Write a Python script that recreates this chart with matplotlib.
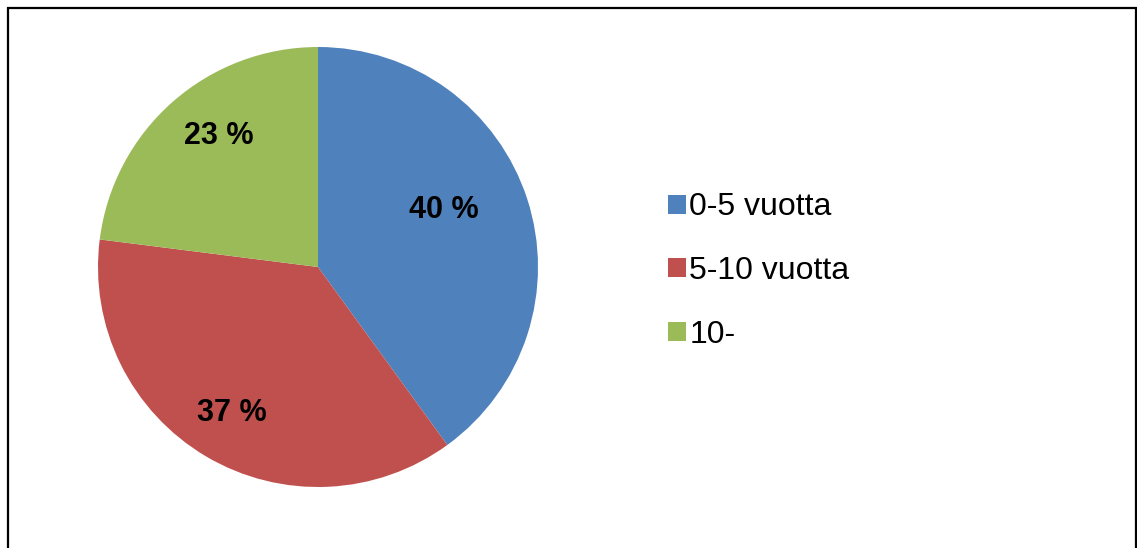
import matplotlib.pyplot as plt
from matplotlib.patches import Rectangle

# data
labels = ['0-5 vuotta', '5-10 vuotta', '10-']
values = [40, 37, 23]
colors = ['#4F81BD', '#C0504D', '#9BBB59']
pct_text = ['40 %', '37 %', '23 %']

plt.rcParams['font.family'] = ['Liberation Sans', 'DejaVu Sans']

W, H = 1137, 548
fig = plt.figure(figsize=(W / 100, H / 100), dpi=100)

# frame around chart area (bottom edge falls outside the image)
fig.add_artist(Rectangle((7.5 / W, -0.05), (1136 - 7.5) / W, (H - 7.5) / H + 0.05,
                         transform=fig.transFigure, fill=False,
                         edgecolor='black', linewidth=1.6))

# pie axes: center (318, 267), radius 220 px
cx, cy, r = 318, 267, 220
ax = fig.add_axes([(cx - r) / W, (H - cy - r) / H, 2 * r / W, 2 * r / H])
wedges, _ = ax.pie(values, colors=colors, startangle=90, counterclock=False,
                   radius=1, wedgeprops=dict(linewidth=0))
ax.set_xlim(-1, 1)
ax.set_ylim(-1, 1)
ax.set_aspect('equal')
ax.axis('off')

# percentage labels, placed like the excel chart
label_pos = [(0.57, 0.26), (-0.39, -0.665), (-0.45, 0.595)]
for (x, y), t in zip(label_pos, pct_text):
    ax.text(x, y, t, ha='center', va='center', fontsize=22, fontweight='bold',
            color='black')

leg = fig.legend(wedges, labels, loc='center left',
                 bbox_to_anchor=(668 / W, 1 - 271 / H), frameon=False,
                 fontsize=23, handlelength=0.55, handleheight=0.55,
                 handletextpad=0.12, labelspacing=1.05, borderaxespad=0,
                 borderpad=0)

fig.savefig('out.png', dpi=100)
